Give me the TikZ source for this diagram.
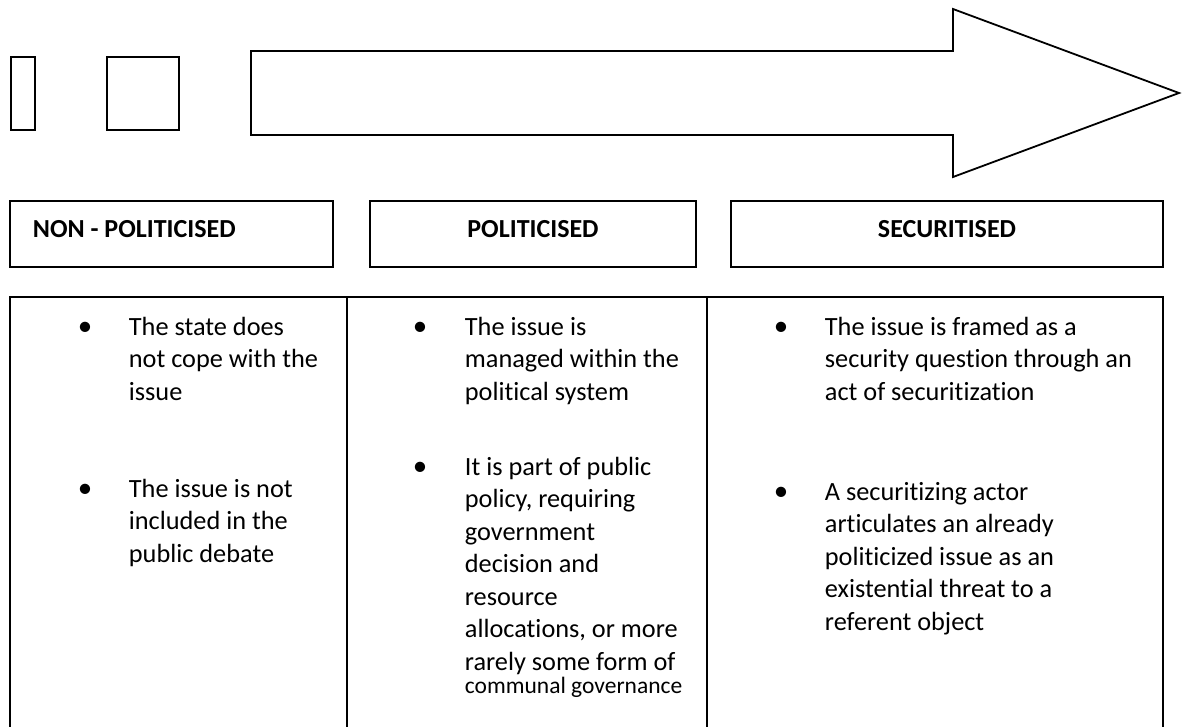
\documentclass[tikz,border=0pt]{standalone}
\usepackage{fontspec}
\setmainfont{Carlito}[Ligatures=NoCommon]
\tikzstyle{stage}=[x=1pt, y=-1pt, line width=1.8pt, font=\fontsize{26.3}{32.5}\selectfont]
\tikzstyle{hdr}=[inner sep=0pt, anchor=base, font=\fontsize{26}{32.5}\selectfont\bfseries]
\tikzstyle{dot}=[inner sep=0pt, anchor=base, font=\fontsize{29}{32.5}\selectfont]
\tikzstyle{item}=[inner sep=0pt, anchor=base west, text width=330pt, align=flush left]
\newcommand{\rowY}{335}
\newcommand{\tableTop}{297}
\newcommand{\tableBot}{727}

\begin{document}
\begin{tikzpicture}[stage]
	\useasboundingbox (0,0) rectangle (1182,727);
	%% small boxes and the big arrow
	\draw (11,57) rectangle (35,130);
	\draw (107,57) rectangle (179,130);
	\draw[line join=miter] (251,51) -- (953,51) -- (953,9) -- (1179,93) -- (953,177) -- (953,135) -- (251,135) -- cycle;
	%%%%%%
	\draw (10,201) rectangle (333,267);
	\draw (32,238) node[hdr, anchor=base west] (nonpol) {NON - POLITICISED};
	%%
	\draw (370,201) rectangle (696,267);
	\draw (533,238) node[hdr] (pol) {POLITICISED};
	%%
	\draw (731,201) rectangle (1163,267);
	\draw (947,238) node[hdr] (sec) {SECURITISED};
	%%%%%%
	\draw (10,\tableBot) -- (10,\tableTop) -- (1163,\tableTop) -- (1163,\tableBot);
	\draw (347,\tableTop) -- (347,\tableBot);
	\draw (707,\tableTop) -- (707,\tableBot);
	%%
	\draw (85,\rowY) node[dot] (b1) {•};
	\draw (128,\rowY) node[item] (np1) {The state does\\ not cope with the\\ issue};
	\draw (85,497) node[dot] (b2) {•};
	\draw (128,497) node[item] (np2) {The issue is not\\ included in the\\ public debate};
	%%
	\draw (420,\rowY) node[dot] (b3) {•};
	\draw (464,\rowY) node[item] (p1) {The issue is\\ managed within the\\ political system};
	\draw (420,475) node[dot] (b4) {•};
	\draw (464,475) node[item] (p2) {It is part of public\\ policy, requiring\\ government\\ decision and\\ resource\\ allocations, or more\\ rarely some form of\\[-9pt] {\fontsize{23.5}{28}\selectfont communal governance}};
	%%
	\draw (781,\rowY) node[dot] (b5) {•};
	\draw (824,\rowY) node[item] (s1) {The issue is framed as a\\ security question through an\\ act of securitization};
	\draw (781,500) node[dot] (b6) {•};
	\draw (824,500) node[item] (s2) {A securitizing actor\\ articulates an already\\ politicized issue as an\\ existential threat to a\\ referent object};
\end{tikzpicture}
\end{document}
